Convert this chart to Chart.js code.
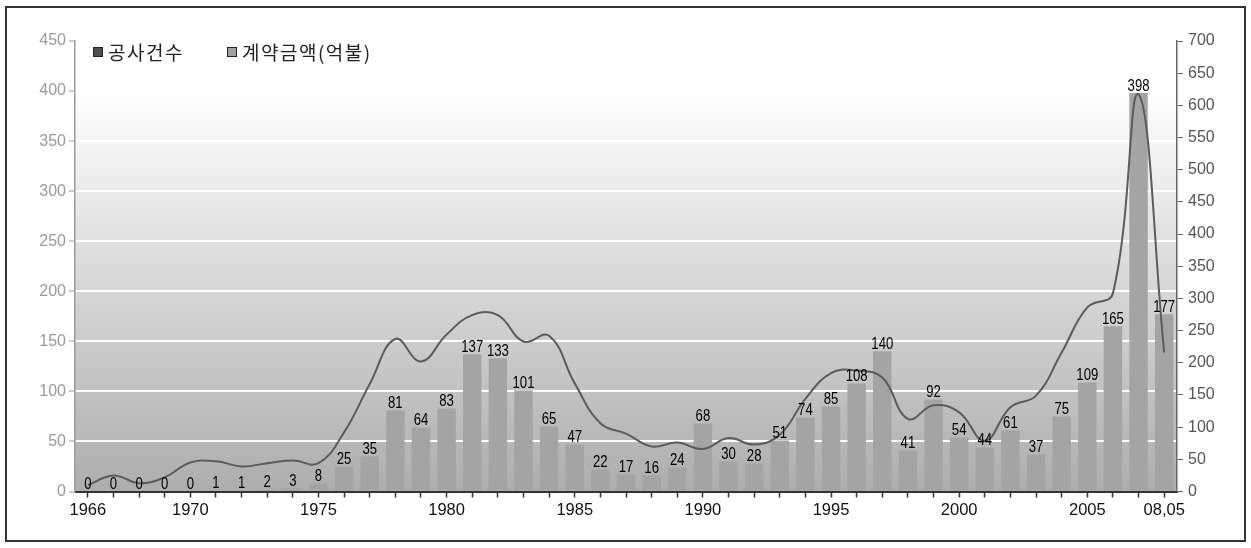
<!DOCTYPE html>
<html>
<head>
<meta charset="utf-8">
<script src="https://cdn.jsdelivr.net/npm/chart.js@4.4.0/dist/chart.umd.min.js"></script>
<style>
  html, body { margin: 0; padding: 0; background: #fff; }
  canvas { display: block; }
</style>
</head>
<body>
<canvas id="chart" width="1251" height="548"></canvas>
<script>
// Categories: one per year, the last one covers 2008 up to May
const years = [
  '1966','1967','1968','1969','1970','1971','1972','1973','1974','1975',
  '1976','1977','1978','1979','1980','1981','1982','1983','1984','1985',
  '1986','1987','1988','1989','1990','1991','1992','1993','1994','1995',
  '1996','1997','1998','1999','2000','2001','2002','2003','2004','2005',
  '2006','2007','08,05'
];

// Years that carry a label on the horizontal axis
const labeledYears = ['1966','1970','1975','1980','1985','1990','1995','2000','2005','08,05'];

// Series names
const countName = '공사건수';
const amountName = '계약금액(억불)';

// 계약금액(억불) per year (bars, left axis)
const contractAmounts = [
  0, 0, 0, 0, 0, 1, 1, 2, 3, 8,
  25, 35, 81, 64, 83, 137, 133, 101, 65, 47,
  22, 17, 16, 24, 68, 30, 28, 51, 74, 85,
  108, 140, 41, 92, 54, 44, 61, 37, 75, 109,
  165, 398, 177
];

// 공사건수 per year (line, right axis)
const projectCounts = [
  10, 25, 13, 22, 45, 47, 39, 44, 48, 44,
  92, 167, 237, 202, 244, 274, 274, 233, 242, 168,
  106, 90, 70, 76, 66, 83, 73, 88, 144, 184,
  188, 177, 113, 134, 123, 79, 131, 149, 216, 286,
  308, 617, 216
];

// Left-axis and right-axis ranges
const leftAxisMax = 450;
const rightAxisMax = 700;
const axisStep = 50;

// ---- layout ----
const W = 1251, H = 548;
const AREA = { left: 75, right: 1177, top: 41, bottom: 491.5 };
const LINE_COLOR = '#5c5c5c';
const BAR_COLOR = '#a4a4a4';

Chart.defaults.font.family = '"Liberation Sans", Arial, sans-serif';

// Page background, plot gradient and outer frame
const backdrop = {
  id: 'backdrop',
  beforeDraw(chart) {
    const { ctx, chartArea: a } = chart;
    ctx.save();
    ctx.fillStyle = '#ffffff';
    ctx.fillRect(0, 0, W, H);
    const g = ctx.createLinearGradient(0, a.top, 0, a.bottom);
    g.addColorStop(0, '#ffffff');
    g.addColorStop(0.11, '#ffffff');
    g.addColorStop(1, '#adadad');
    ctx.fillStyle = g;
    ctx.fillRect(a.left, a.top, a.right - a.left, a.bottom - a.top);
    ctx.restore();
  },
  afterDraw(chart) {
    const { ctx } = chart;
    ctx.save();
    ctx.strokeStyle = '#333';
    ctx.lineWidth = 2;
    ctx.strokeRect(6, 7, 1239, 534);
    ctx.restore();
  }
};

// Value labels above each bar
const barValues = {
  id: 'barValues',
  afterDatasetsDraw(chart) {
    const { ctx } = chart;
    const ds = chart.data.datasets[1];
    const meta = chart.getDatasetMeta(1);
    ctx.save();
    ctx.fillStyle = '#000';
    ctx.font = '16px "Liberation Sans", Arial, sans-serif';
    ctx.textAlign = 'center';
    ctx.textBaseline = 'alphabetic';
    meta.data.forEach((bar, i) => {
      ctx.save();
      ctx.translate(bar.x, bar.y - (ds.data[i] === 0 ? 3 : 2));
      ctx.scale(0.82, 1);
      ctx.fillText(String(ds.data[i]), 0, 0);
      ctx.restore();
    });
    ctx.restore();
  }
};

// Legend drawn inside the top of the plot
const cornerLegend = {
  id: 'cornerLegend',
  afterDraw(chart) {
    const { ctx } = chart;
    const items = [
      { x: 93, text: chart.data.datasets[0].label, fill: '#505050' },
      { x: 227, text: chart.data.datasets[1].label, fill: '#a2a2a2' }
    ];
    ctx.save();
    ctx.font = '19px "Noto Sans CJK KR", sans-serif';
    if ('letterSpacing' in ctx) ctx.letterSpacing = '1.5px';
    ctx.textBaseline = 'middle';
    ctx.textAlign = 'left';
    items.forEach(it => {
      ctx.fillStyle = it.fill;
      ctx.fillRect(it.x, 47, 10, 10);
      ctx.strokeStyle = '#222';
      ctx.lineWidth = 1;
      ctx.strokeRect(it.x + 0.5, 47.5, 9, 9);
      ctx.fillStyle = '#222';
      ctx.fillText(it.text, it.x + 15, 53);
    });
    ctx.restore();
  }
};

new Chart(document.getElementById('chart'), {
  data: {
    labels: years,
    datasets: [
      {
        type: 'line',
        label: countName,
        data: projectCounts,
        yAxisID: 'yR',
        borderColor: LINE_COLOR,
        borderWidth: 2,
        pointRadius: 0,
        tension: 0.42,
        fill: false
      },
      {
        type: 'bar',
        label: amountName,
        data: contractAmounts,
        yAxisID: 'yL',
        backgroundColor: BAR_COLOR,
        barPercentage: 0.72,
        categoryPercentage: 1
      }
    ]
  },
  options: {
    responsive: false,
    animation: false,
    events: [],
    layout: { padding: { top: AREA.top, left: 0, right: 0, bottom: 0 } },
    plugins: {
      legend: { display: false },
      tooltip: { enabled: false }
    },
    scales: {
      x: {
        type: 'category',
        offset: true,
        grid: {
          offset: false,
          drawOnChartArea: false,
          drawTicks: true,
          tickLength: 6,
          tickColor: '#333',
          tickWidth: 1.5
        },
        border: { color: '#333', width: 2 },
        ticks: {
          autoSkip: false,
          maxRotation: 0,
          minRotation: 0,
          color: '#111',
          font: { size: 16.5 },
          padding: 3,
          callback(value) {
            const l = this.getLabelForValue(value);
            return labeledYears.includes(l) ? l : '';
          }
        },
        afterFit(s) { s.height = H - AREA.bottom; }
      },
      yL: {
        type: 'linear',
        position: 'left',
        min: 0,
        max: leftAxisMax,
        ticks: { stepSize: axisStep, color: '#9a9a9a', font: { size: 16 }, padding: 3 },
        grid: {
          color: ctx => (ctx.tick && (ctx.tick.value === 0 || ctx.tick.value === leftAxisMax)) ? 'rgba(0,0,0,0)' : '#ffffff',
          lineWidth: 2,
          tickColor: '#9a9a9a',
          tickLength: 6,
          tickWidth: 1
        },
        border: { color: '#9a9a9a', width: 1.5 },
        afterFit(s) { s.width = AREA.left; }
      },
      yR: {
        type: 'linear',
        position: 'right',
        min: 0,
        max: rightAxisMax,
        ticks: { stepSize: axisStep, color: '#555', font: { size: 16 }, padding: 5 },
        grid: {
          drawOnChartArea: false,
          tickColor: '#666',
          tickLength: 6,
          tickWidth: 1
        },
        border: { color: '#666', width: 1.5 },
        afterFit(s) { s.width = W - AREA.right; }
      }
    }
  },
  plugins: [backdrop, barValues, cornerLegend]
});
</script>
</body>
</html>
